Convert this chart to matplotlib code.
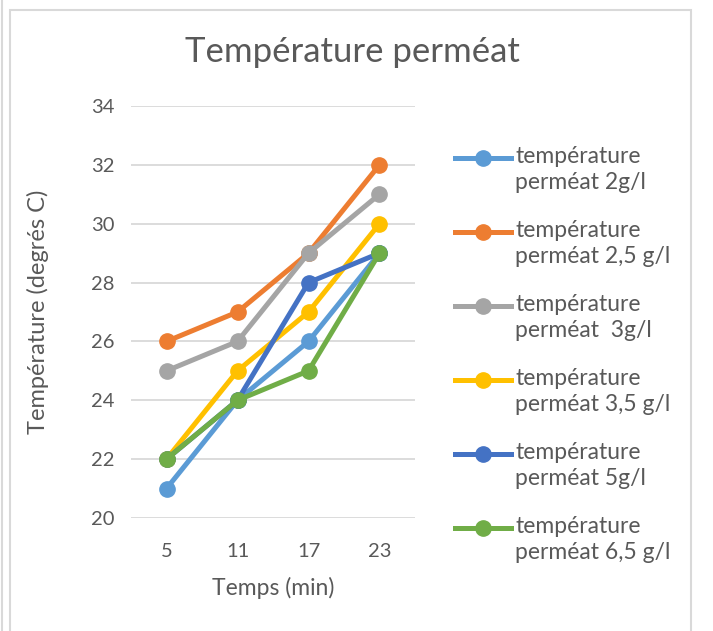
import matplotlib.pyplot as plt
from matplotlib.lines import Line2D
from matplotlib.patches import Rectangle

plt.rcParams['font.family'] = ['Lato', 'DejaVu Sans']

temps = ['5', '11', '17', '23']
noms = ['température\nperméat 2g/l', 'température\nperméat 2,5 g/l',
        'température\nperméat  3g/l', 'température\nperméat 3,5 g/l',
        'température\nperméat 5g/l', 'température\nperméat 6,5 g/l']
t_2 = [21, 24, 26, 29]
t_25 = [26, 27, 29, 32]
t_3 = [25, 26, 29, 31]
t_35 = [22, 25, 27, 30]
t_5 = [22, 24, 28, 29]
t_65 = [22, 24, 25, 29]
series = [t_2, t_25, t_3, t_35, t_5, t_65]
couleurs = ['#5B9BD5', '#ED7D31', '#A5A5A5', '#FFC000', '#4472C4', '#70AD47']

W, H = 713, 631
fig = plt.figure(figsize=(W / 100, H / 100), dpi=100)
gris = '#595959'

# cadre du graphique
fig.patches.append(Rectangle((10 / W, -0.1), (691 - 10) / W, 1.1 - 10 / H,
                             transform=fig.transFigure, fill=False,
                             ec='#D9D9D9', lw=1.5))
fig.lines.append(Line2D([2 / W, 2 / W], [0, 1], transform=fig.transFigure,
                        color='#D9D9D9', lw=1.5))

ax = fig.add_axes([131 / W, (H - 518) / H, (415 - 131) / W, (518 - 106) / H])
x = list(range(len(temps)))
for vals, c in zip(series, couleurs):
    ax.plot(x, vals, color=c, lw=3.6, marker='o', ms=11, zorder=3)

ax.set_xlim(-0.5, 3.5)
ax.set_ylim(20, 34)
ax.set_yticks(range(20, 35, 2))
ax.set_xticks(x)
ax.set_xticklabels(temps)
ax.grid(axis='y', color='#D9D9D9', lw=1.3)
ax.set_axisbelow(True)
for s in ax.spines.values():
    s.set_visible(False)
ax.tick_params(length=0, labelsize=14.5, labelcolor=gris)
ax.tick_params(axis='x', pad=18)
ax.tick_params(axis='y', pad=12)
ax.set_xlabel('Temps (min)', fontsize=16.5, color=gris, labelpad=12)
ax.set_ylabel('Température (degrés C)', fontsize=17, color=gris, labelpad=30)
fig.text(352 / W, 1 - 52 / H, 'Température perméat', fontsize=25, color=gris,
         ha='center', va='center')

# légende
for i, (nom, c) in enumerate(zip(noms, couleurs)):
    y = 1 - (158 + 74 * i) / H
    fig.lines.append(Line2D([455 / W, 511 / W], [y, y], transform=fig.transFigure,
                            color=c, lw=3.6))
    fig.lines.append(Line2D([483 / W], [y], transform=fig.transFigure,
                            color=c, marker='o', ms=11))
    fig.text(515 / W, y + 12 / H, nom, fontsize=16.5, color=gris,
             ha='left', va='top', linespacing=1.3)

fig.savefig('out.png', dpi=100)
